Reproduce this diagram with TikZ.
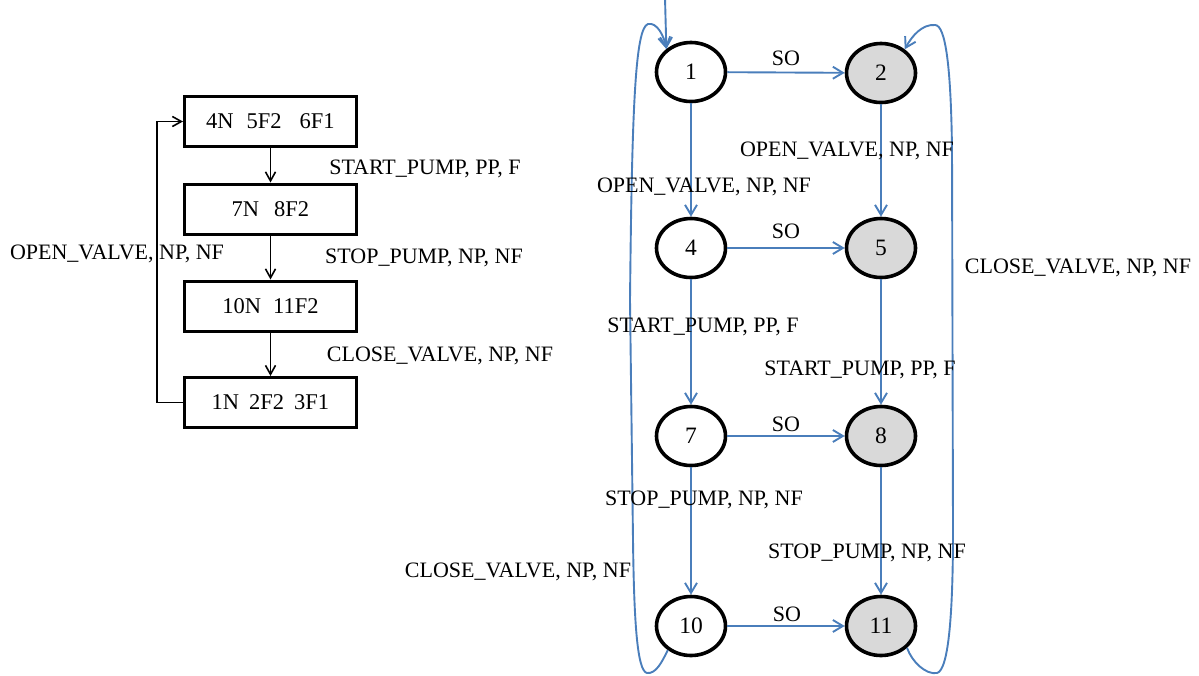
\documentclass[tikz,border=0pt]{standalone}
\usepackage{fontspec}
\setmainfont{Liberation Serif}
\usetikzlibrary{shapes.geometric,arrows.meta}
\definecolor{edgeblue}{HTML}{4A7EBB}
\definecolor{stategray}{HTML}{D9D9D9}
\begin{document}
\begin{tikzpicture}[x=1pt,y=-1pt,
  font=\fontsize{22}{26}\selectfont,
  box/.style={draw, line width=3pt, minimum width=172pt, minimum height=50pt, inner sep=0pt, font=\fontsize{22.5}{26}\selectfont},
  state/.style={draw, ellipse, line width=3.6pt, minimum width=69pt, minimum height=59pt, inner sep=0pt, font=\fontsize{23.5}{28}\selectfont},
  final/.style={state, fill=stategray},
  flow/.style={line width=1.6pt, -{Straight Barb[length=9pt,width=10pt]}},
  trans/.style={draw=edgeblue, line width=1.9pt, -{Straight Barb[length=10pt,width=12pt]}},
  lbl/.style={anchor=base, inner sep=0pt}]
\useasboundingbox (0,0) rectangle (1199,675);

% ---- block diagram (left) ----
\node[box] (b1) at (270.5,121.5) {4N\hspace{13pt}5F2\hspace{18pt}6F1};
\node[box] (b2) at (270.5,209) {7N\hspace{15pt}8F2};
\node[box] (b3) at (270.5,306) {10N\hspace{12pt}11F2};
\node[box] (b4) at (270.5,402.5) {1N\hspace{10pt}2F2\hspace{10pt}3F1};

\draw[flow] (b1) -- (b2);
\draw[flow] (b2) -- (b3);
\draw[flow] (b3) -- (b4);
\draw[flow] (b4.west) -- ++(-26,0) |- (b1.west);

\node[lbl] (l1) at (425,174) {START\_PUMP, PP, F};
\node[lbl] (l2) at (424,263) {STOP\_PUMP, NP, NF};
\node[lbl] (l3) at (440,361) {CLOSE\_VALVE, NP, NF};
\node[lbl] (l4) at (117,259) {OPEN\_VALVE, NP, NF};

% ---- state graph (right) ----
\node[state] (n1)  at (691,72)  {1};
\node[final] (n2)  at (881,73)  {2};
\node[state] (n4)  at (691,248) {4};
\node[final] (n5)  at (881,248) {5};
\node[state] (n7)  at (691,436) {7};
\node[final] (n8)  at (881,436) {8};
\node[state] (n10) at (691,626) {10};
\node[final] (n11) at (881,626) {11};

\coordinate (init) at (665,-2);
\draw[trans] (init) -- (n1.137);

\draw[trans] (n1) -- (n2);
\draw[trans] (n4) -- (n5);
\draw[trans] (n7) -- (n8);
\draw[trans] (n10) -- (n11);

\draw[trans] (n1) -- (n4);
\draw[trans] (n4) -- (n7);
\draw[trans] (n7) -- (n10);
\draw[trans] (n2) -- (n5);
\draw[trans] (n5) -- (n8);
\draw[trans] (n8) -- (n11);

% return loops around both columns
\draw[trans] (n10.226) .. controls (662,662) and (656,674) .. (647,673)
  .. controls (637,671) and (634,620) .. (633,540)
  -- (630,300)
  .. controls (632,110) and (635,28) .. (648,24)
  .. controls (657,22) and (664,36) .. (n1.137);
\draw[trans] (n11.-40) .. controls (912,662) and (926,675) .. (937,673)
  .. controls (949,670) and (953,610) .. (953,530)
  -- (952,150)
  .. controls (951,70) and (946,25) .. (935,25)
  .. controls (922,24) and (912,36) .. (n2.45);

\node[lbl] (s1) at (786,65)  {SO};
\node[lbl] (s2) at (786,238) {SO};
\node[lbl] (s3) at (786,431) {SO};
\node[lbl] (s4) at (787,621) {SO};

\node[lbl] (t1) at (704,192) {OPEN\_VALVE, NP, NF};
\node[lbl] (t2) at (847,156) {OPEN\_VALVE, NP, NF};
\node[lbl] (t3) at (703,332) {START\_PUMP, PP, F};
\node[lbl] (t4) at (860,375) {START\_PUMP, PP, F};
\node[lbl] (t5) at (704,505) {STOP\_PUMP, NP, NF};
\node[lbl] (t6) at (867,558) {STOP\_PUMP, NP, NF};
\node[lbl] (t7) at (518,577) {CLOSE\_VALVE, NP, NF};
\node[lbl] (t8) at (1078,273) {CLOSE\_VALVE, NP, NF};
\end{tikzpicture}
\end{document}
